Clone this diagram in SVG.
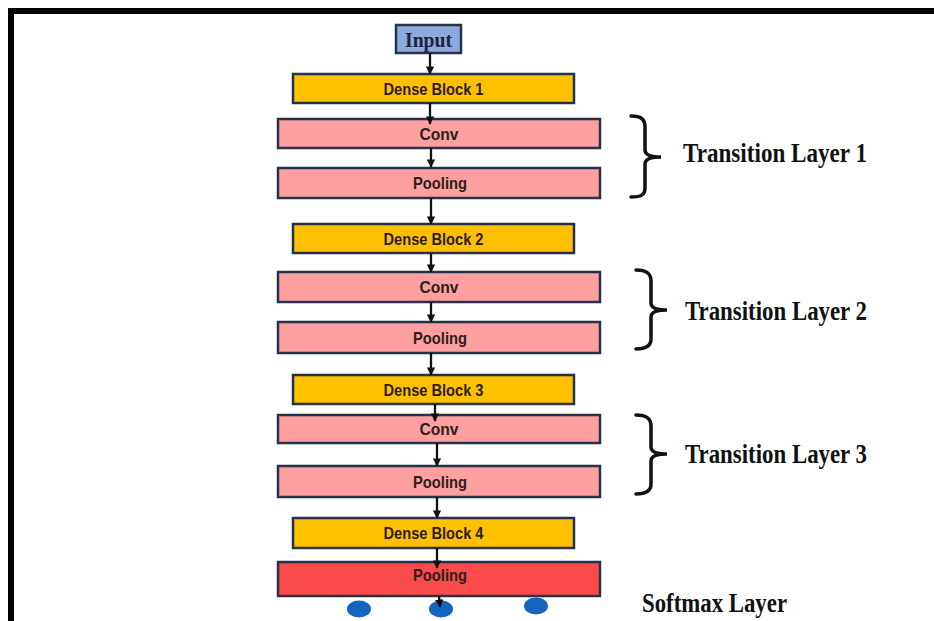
<svg xmlns="http://www.w3.org/2000/svg" width="934" height="621" viewBox="0 0 934 621">
<defs>
<style>
.box{stroke:#26324a;stroke-width:2.5}
.dense{fill:#ffc000}
.tl{fill:#ff9f9f}
.final{fill:#fb4a4a}
.inp{fill:#8eaadc}
.lbl{font-family:"Liberation Sans",Arial,sans-serif;font-weight:bold;font-size:16.5px;fill:#2a2020;text-anchor:middle}
.side{font-family:"Liberation Serif","Times New Roman",serif;font-weight:bold;font-size:27px;fill:#111}
.conn{stroke:#111;stroke-width:2.3;fill:none;marker-end:url(#ah)}
.brace{stroke:#111;stroke-width:3.5;fill:none;stroke-linecap:round}
.dot{fill:#1565c0}
</style>
<marker id="ah" viewBox="0 0 10 10" refX="9" refY="5" markerWidth="3.8" markerHeight="3.6" orient="auto" markerUnits="strokeWidth">
<path d="M0,0 L10,5 L0,10 z" fill="#111"/>
</marker>
</defs>
<rect width="934" height="621" fill="#fff"/>
<rect x="8" y="8" width="926" height="6" fill="#000"/>
<rect x="8" y="8" width="6" height="613" fill="#000"/>

<g id="input">
<rect class="box inp" x="396" y="25" width="65" height="28"/>
<text x="428.5" y="47" font-family="Liberation Serif,serif" font-weight="bold" font-size="21" fill="#1a2340" text-anchor="middle" textLength="47" lengthAdjust="spacingAndGlyphs">Input</text>
</g>
<g id="dense1">
<rect class="box dense" x="293" y="74" width="281" height="29"/>
<text class="lbl" x="433.5" y="95" textLength="100" lengthAdjust="spacingAndGlyphs">Dense Block 1</text>
</g>
<g id="conv1">
<rect class="box tl" x="278" y="119" width="322" height="29"/>
<text class="lbl" x="439" y="140" textLength="39" lengthAdjust="spacingAndGlyphs">Conv</text>
</g>
<g id="pool1">
<rect class="box tl" x="278" y="168" width="322" height="30"/>
<text class="lbl" x="440" y="189" textLength="54" lengthAdjust="spacingAndGlyphs">Pooling</text>
</g>
<g id="dense2">
<rect class="box dense" x="293" y="224" width="281" height="29"/>
<text class="lbl" x="433.5" y="245" textLength="100" lengthAdjust="spacingAndGlyphs">Dense Block 2</text>
</g>
<g id="conv2">
<rect class="box tl" x="278" y="272" width="322" height="30"/>
<text class="lbl" x="439" y="293" textLength="39" lengthAdjust="spacingAndGlyphs">Conv</text>
</g>
<g id="pool2">
<rect class="box tl" x="278" y="322" width="322" height="31"/>
<text class="lbl" x="440" y="344" textLength="54" lengthAdjust="spacingAndGlyphs">Pooling</text>
</g>
<g id="dense3">
<rect class="box dense" x="293" y="375" width="281" height="29"/>
<text class="lbl" x="433.5" y="396" textLength="100" lengthAdjust="spacingAndGlyphs">Dense Block 3</text>
</g>
<g id="conv3">
<rect class="box tl" x="278" y="415" width="322" height="28"/>
<text class="lbl" x="439" y="435" textLength="39" lengthAdjust="spacingAndGlyphs">Conv</text>
</g>
<g id="pool3">
<rect class="box tl" x="278" y="466" width="322" height="31"/>
<text class="lbl" x="440" y="488" textLength="54" lengthAdjust="spacingAndGlyphs">Pooling</text>
</g>
<g id="dense4">
<rect class="box dense" x="293" y="518" width="281" height="30"/>
<text class="lbl" x="433.5" y="539" textLength="100" lengthAdjust="spacingAndGlyphs">Dense Block 4</text>
</g>
<g id="pool-final">
<rect class="box final" x="278" y="562" width="322" height="34"/>
<text class="lbl" x="440" y="581" textLength="54" lengthAdjust="spacingAndGlyphs">Pooling</text>
</g>

<g id="softmax">
<ellipse class="dot" cx="359" cy="609" rx="12" ry="8.5"/>
<ellipse class="dot" cx="441" cy="609" rx="12" ry="8.5"/>
<ellipse class="dot" cx="536" cy="606" rx="12" ry="8.5"/>
<text class="side" x="642" y="612" textLength="145" lengthAdjust="spacingAndGlyphs">Softmax Layer</text>
</g>

<g id="transition1">
<path class="brace" d="M631,116 C641,116 645,119 645,127 V150 C645,155 650,157 661,157 C650,157 645,159 645,164 V188 C645,195 641,197 631,197"/>
<text class="side" x="683" y="162" textLength="184" lengthAdjust="spacingAndGlyphs">Transition Layer 1</text>
</g>
<g id="transition2">
<path class="brace" d="M636,270 C646,270 651,273 651,281 V303 C651,308 656,310 667,310 C656,310 651,312 651,317 V339 C651,346 646,349 636,349"/>
<text class="side" x="685" y="320" textLength="182" lengthAdjust="spacingAndGlyphs">Transition Layer 2</text>
</g>
<g id="transition3">
<path class="brace" d="M636,415 C646,415 651,418 651,426 V447 C651,452 656,454 667,454 C656,454 651,456 651,461 V484 C651,491 646,494 636,494"/>
<text class="side" x="685" y="463" textLength="182" lengthAdjust="spacingAndGlyphs">Transition Layer 3</text>
</g>

<g id="connectors">
<line class="conn" x1="430" y1="53" x2="430" y2="74"/>
<line class="conn" x1="430" y1="103" x2="430" y2="124"/>
<line class="conn" x1="431" y1="148" x2="431" y2="167"/>
<line class="conn" x1="431" y1="198" x2="431" y2="224"/>
<line class="conn" x1="431" y1="253" x2="431" y2="272"/>
<line class="conn" x1="431" y1="302" x2="431" y2="322"/>
<line class="conn" x1="431" y1="353" x2="431" y2="375"/>
<line class="conn" x1="435" y1="404" x2="435" y2="421"/>
<line class="conn" x1="437" y1="443" x2="437" y2="466"/>
<line class="conn" x1="437" y1="497" x2="437" y2="518"/>
<line class="conn" x1="437" y1="548" x2="437" y2="568"/>
<line class="conn" x1="439" y1="596" x2="440" y2="607"/>
</g>
</svg>
